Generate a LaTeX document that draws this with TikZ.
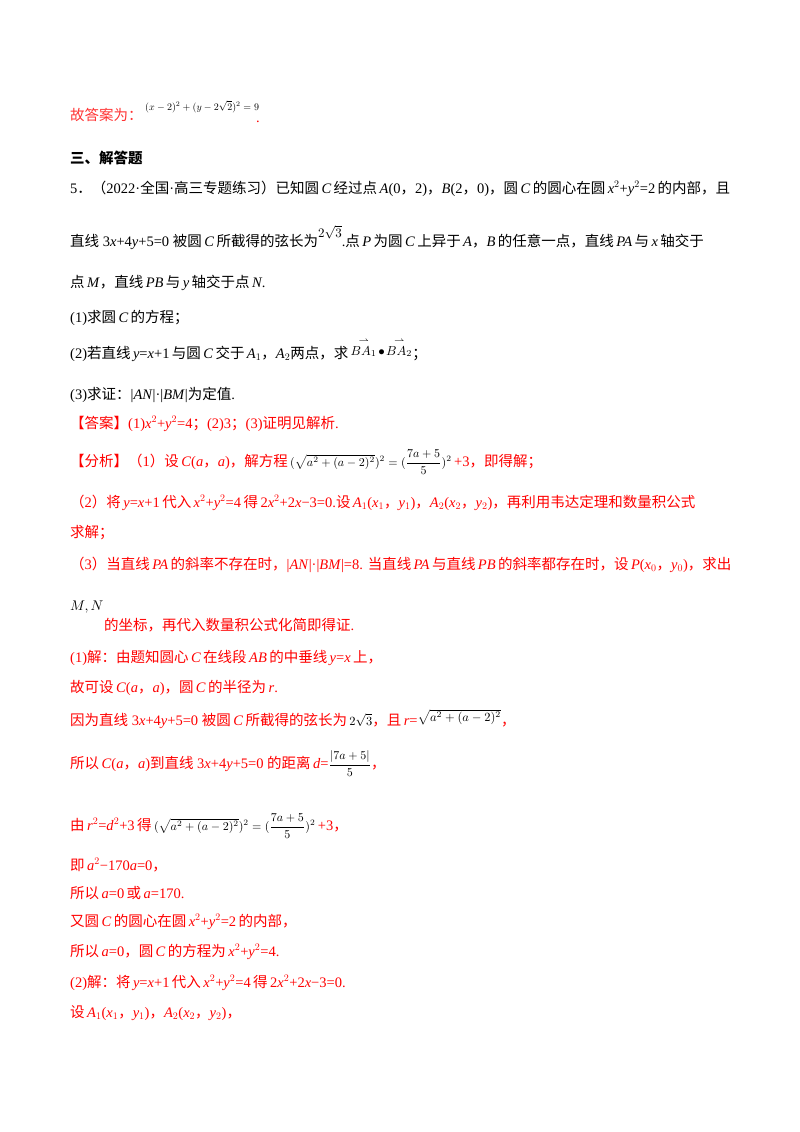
\documentclass[tikz,border=0pt]{standalone}
\usepackage{graphicx}
\usepackage{fontspec}
\setmainfont{Liberation Serif}
\newfontfamily\cjk{Noto Sans CJK SC}
\XeTeXinterchartokenstate=1
\newXeTeXintercharclass\cjkclass
\count255="4E00 \loop \XeTeXcharclass\count255=\cjkclass \advance\count255 1 \ifnum\count255<"A000 \repeat
\count255="3000 \loop \XeTeXcharclass\count255=\cjkclass \advance\count255 1 \ifnum\count255<"3040 \repeat
\count255="FF00 \loop \XeTeXcharclass\count255=\cjkclass \advance\count255 1 \ifnum\count255<"FFF0 \repeat
\XeTeXinterchartoks 0 \cjkclass = {\begingroup\cjk}
\XeTeXinterchartoks 4095 \cjkclass = {\begingroup\cjk}
\XeTeXinterchartoks \cjkclass 0 = {\endgroup}
\XeTeXinterchartoks \cjkclass 4095 = {\endgroup}
\definecolor{ans}{RGB}{255,0,0}
\newcommand{\iv}[1]{\textit{#1}}
\newcommand{\mm}[2][1.35]{\scalebox{#1}{\normalsize\color{black}$#2$}}
\newcommand{\vc}[1]{\stackrel{\rightharpoonup}{#1}}
\begin{document}
\begin{tikzpicture}[x=1pt,y=-1pt,
  t/.style={anchor=base west,inner sep=0pt,font=\fontsize{14.5}{16}\selectfont},
  r/.style={t,text=ans}]
\useasboundingbox (0,0) rectangle (800,1132);
\fill[white] (0,0) rectangle (800,1132);
\node[t,text=ans!80] (l0) at (70,120) {故答案为：};
\node[t] (l0f) at (145,110) {\mm[1.0]{(x-2)^2+(y-2\sqrt2)^2=9}};
\node[t,text=ans] (l0d) at (256,122) {.};
\node[t,font=\fontsize{14.5}{16}\selectfont\bfseries] (h) at (70,163) {三、解答题};
\node[t] (a1) at (70,193) {5．（2022·全国·高三专题练习）已知圆\,\iv{C}\,经过点\,\iv{A}(0，2)，\iv{B}(2，0)，圆\,\iv{C}\,的圆心在圆\,\iv{x}$^2$+\iv{y}$^2$=2\,的内部，且};
\node[t] (a2) at (70,246) {直线 3\iv{x}+4\iv{y}+5=0 被圆\,\iv{C}\,所截得的弦长为\raisebox{9pt}{\mm[1.3]{2\sqrt3}}.点\,\iv{P}\,为圆\,\iv{C}\,上异于\,\iv{A}，\iv{B}\,的任意一点，直线\,\iv{PA}\,与\,\iv{x}\,轴交于};
\node[t] (a3) at (70,287) {点\,\iv{M}，直线\,\iv{PB}\,与\,\iv{y}\,轴交于点\,\iv{N}.};
\node[t] (q1) at (70,322) {(1)求圆\,\iv{C}\,的方程；};
\node[t] (q2) at (70,358) {(2)若直线\,\iv{y}=\iv{x}+1\,与圆\,\iv{C}\,交于\,\iv{A}$_1$，\iv{A}$_2$两点，求\,\raisebox{3pt}{\mm[1.3]{\vc{BA_1}\!\bullet\!\vc{BA_2}}}；};
\node[t] (q3) at (70,399) {(3)求证：|\iv{AN}|·|\iv{BM}|为定值.};
\node[r] (an) at (70,428) {【答案】(1)\iv{x}$^2$+\iv{y}$^2$=4；(2)3；(3)证明见解析.};
\node[r] (f1) at (70,466) {【分析】（1）设\,\iv{C}(\iv{a}，\iv{a})，解方程\,\mm[1.2]{\displaystyle(\sqrt{a^2+(a-2)^2})^2=(\frac{7a+5}{5})^2}\,+3，即得解；};
\node[r] (f2) at (70,507) {（2）将\,\iv{y}=\iv{x}+1\,代入\,\iv{x}$^2$+\iv{y}$^2$=4\,得\,2\iv{x}$^2$+2\iv{x}−3=0.设\,\iv{A}$_1$(\iv{x}$_1$，\iv{y}$_1$)，\iv{A}$_2$(\iv{x}$_2$，\iv{y}$_2$)，再利用韦达定理和数量积公式};
\node[r] (f2b) at (70,537) {求解；};
\node[r] (f3) at (70,569) {（3）当直线\,\iv{PA}\,的斜率不存在时，|\iv{AN}|·|\iv{BM}|=8. 当直线\,\iv{PA}\,与直线\,\iv{PB}\,的斜率都存在时，设\,\iv{P}(\iv{x}$_0$，\iv{y}$_0$)，求出};
\node[t] (mn) at (70,610) {\mm[1.4]{M,N}};
\node[r] (f3b) at (104,630) {的坐标，再代入数量积公式化简即得证.};
\node[r] (s1) at (70,662) {(1)解：由题知圆心\,\iv{C}\,在线段\,\iv{AB}\,的中垂线\,\iv{y}=\iv{x}\,上，};
\node[r] (s2) at (70,692) {故可设\,\iv{C}(\iv{a}，\iv{a})，圆\,\iv{C}\,的半径为\,\iv{r}.};
\node[r] (s3) at (70,725) {因为直线 3\iv{x}+4\iv{y}+5=0 被圆\,\iv{C}\,所截得的弦长为\,\mm[1.25]{2\sqrt3}，且\,\iv{r}=\raisebox{4pt}{\mm[1.25]{\sqrt{a^2+(a-2)^2}}}，};
\node[r] (s4) at (70,768) {所以\,\iv{C}(\iv{a}，\iv{a})到直线 3\iv{x}+4\iv{y}+5=0 的距离\,\iv{d}=\mm[1.2]{\displaystyle\frac{|7a+5|}{5}}，};
\node[r] (s5) at (70,830) {由\,\iv{r}$^2$=\iv{d}$^2$+3\,得\,\mm[1.2]{\displaystyle(\sqrt{a^2+(a-2)^2})^2=(\frac{7a+5}{5})^2}\,+3，};
\node[r] (s6) at (70,870) {即\,\iv{a}$^2$−170\iv{a}=0，};
\node[r] (s7) at (70,898) {所以\,\iv{a}=0\,或\,\iv{a}=170.};
\node[r] (s8) at (70,926) {又圆\,\iv{C}\,的圆心在圆\,\iv{x}$^2$+\iv{y}$^2$=2\,的内部，};
\node[r] (s9) at (70,956) {所以\,\iv{a}=0，圆\,\iv{C}\,的方程为\,\iv{x}$^2$+\iv{y}$^2$=4.};
\node[r] (s10) at (70,987) {(2)解：将\,\iv{y}=\iv{x}+1\,代入\,\iv{x}$^2$+\iv{y}$^2$=4\,得\,2\iv{x}$^2$+2\iv{x}−3=0.};
\node[r] (s11) at (70,1017) {设\,\iv{A}$_1$(\iv{x}$_1$，\iv{y}$_1$)，\iv{A}$_2$(\iv{x}$_2$，\iv{y}$_2$)，};
\end{tikzpicture}
\end{document}
